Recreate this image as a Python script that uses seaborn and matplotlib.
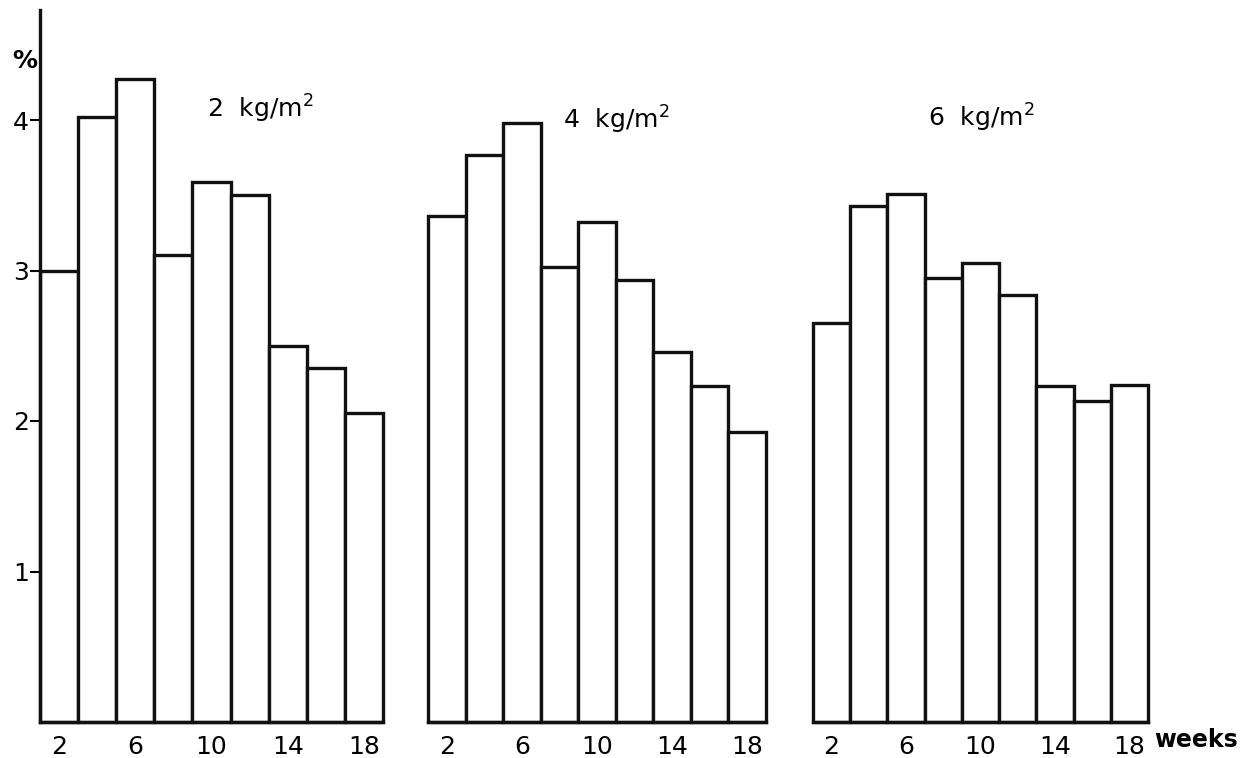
import numpy as np
import pandas as pd
import matplotlib
matplotlib.use("Agg")
import matplotlib.pyplot as plt
import seaborn as sns

# haftalar ve yogunluga gore degerler (%)
weeks = [2, 4, 6, 8, 10, 12, 14, 16, 18]
density_2 = [3.00, 4.02, 4.27, 3.10, 3.59, 3.50, 2.50, 2.35, 2.05]
density_4 = [3.36, 3.77, 3.98, 3.02, 3.32, 2.94, 2.46, 2.23, 1.93]
density_6 = [2.65, 3.43, 3.51, 2.95, 3.05, 2.84, 2.23, 2.13, 2.24]
group_labels = ["2  kg/m$^{2}$", "4  kg/m$^{2}$", "6  kg/m$^{2}$"]
xtick_labels = ["2", "6", "10", "14", "18"]
ytick_values = [1, 2, 3, 4]

data = pd.DataFrame({
    "week": [str(w) for w in weeks] * 3,
    "value": density_2 + density_4 + density_6,
    "group": np.repeat(group_labels, len(weeks)),
})

sns.set_style("white")
plt.rcParams["font.family"] = ["DejaVu Sans"]
plt.rcParams["text.color"] = "black"
plt.rcParams["xtick.color"] = "black"
plt.rcParams["ytick.color"] = "black"
plt.rcParams["axes.labelcolor"] = "black"

W, H = 1250, 758
fig = plt.figure(figsize=(12.5, 7.58), dpi=100)

# piksel olarak panel kenarlari
panels = [(40, 383), (428, 766), (813, 1148)]
base_px, top_px = 722, 10
unit_px = 150.5
ymax = (base_px - top_px) / unit_px

label_pos = [(207, 118), (563, 129), (928, 127)]

for i, (g, (x0, x1)) in enumerate(zip(group_labels, panels)):
    ax = fig.add_axes([x0 / W, (H - base_px) / H, (x1 - x0) / W, (base_px - top_px) / H])
    sub = data[data.group == g]
    sns.barplot(data=sub, x="week", y="value", ax=ax, color="white", saturation=1,
                edgecolor="#111111", linewidth=2.4, width=1, errorbar=None,
                order=[str(w) for w in weeks])
    for p in ax.patches:
        p.set_clip_on(False)
    ax.set_xlim(-0.5, len(weeks) - 0.5)
    ax.set_ylim(0, ymax)
    ax.set_xlabel("")
    ax.set_ylabel("")
    ax.set_xticks([0, 2, 4, 6, 8])
    ax.set_xticklabels(xtick_labels, fontsize=18)
    ax.tick_params(axis="x", length=0, pad=9)
    for s in ["top", "right"]:
        ax.spines[s].set_visible(False)
    ax.spines["bottom"].set_linewidth(2.4)
    ax.spines["bottom"].set_color("#111111")
    if i == 0:
        ax.spines["left"].set_linewidth(2.4)
        ax.spines["left"].set_color("#111111")
        ax.set_yticks(ytick_values)
        ax.set_yticklabels([str(v) for v in ytick_values], fontsize=18)
        ax.tick_params(axis="y", direction="out", length=7, width=1.5, pad=1, left=True)
    else:
        ax.spines["left"].set_visible(False)
        ax.set_yticks([])
    ax.patch.set_alpha(0)
    lx, ly = label_pos[i]
    fig.text(lx / W, (H - ly) / H, g, fontsize=18, va="baseline", ha="left")

fig.text(12 / W, (H - 68) / H, "%", fontsize=18, fontweight="bold", va="baseline", ha="left")
fig.text(1154 / W, (H - 747) / H, "weeks", fontsize=17, fontweight="bold", va="baseline", ha="left")

fig.savefig("out.png", dpi=100)
